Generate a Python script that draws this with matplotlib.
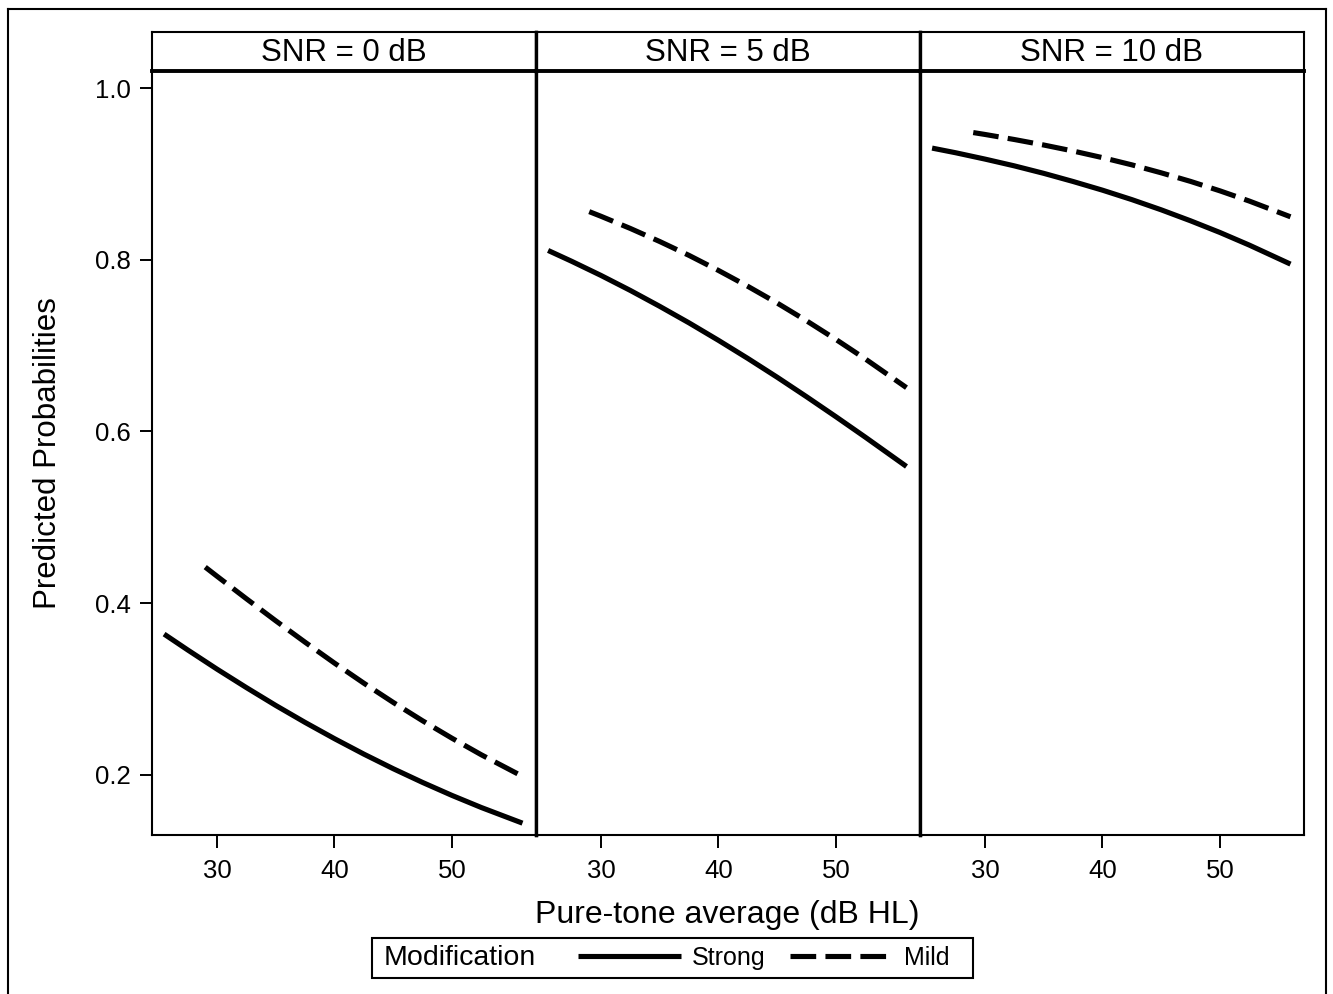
import matplotlib
matplotlib.use("Agg")
import matplotlib.pyplot as plt
from matplotlib.lines import Line2D
from matplotlib.patches import Rectangle

plt.rcParams['font.family'] = ['Liberation Sans', 'DejaVu Sans']

# values
panel_titles = ["SNR = 0 dB", "SNR = 5 dB", "SNR = 10 dB"]
pta_strong = [25.5, 27.5, 30, 32.5, 35, 37.5, 40, 42.5, 45, 47.5, 50, 52.5, 56]
pta_mild = [29, 30, 32.5, 35, 37.5, 40, 42.5, 45, 47.5, 50, 52.5, 56]
strong_snr0 = [0.3640, 0.3456, 0.3232, 0.3017, 0.2809, 0.2611, 0.2422,
               0.2242, 0.2072, 0.1912, 0.1761, 0.1620, 0.1438]
mild_snr0 = [0.4420, 0.4314, 0.4052, 0.3795, 0.3545, 0.3302,
             0.3068, 0.2844, 0.2630, 0.2427, 0.2234, 0.1983]
strong_snr5 = [0.8108, 0.7982, 0.7817, 0.7642, 0.7457, 0.7264, 0.7061,
               0.6850, 0.6631, 0.6404, 0.6171, 0.5933, 0.5592]
mild_snr5 = [0.8560, 0.8506, 0.8364, 0.8212, 0.8050, 0.7875,
             0.7690, 0.7495, 0.7288, 0.7071, 0.6844, 0.6510]
strong_snr10 = [0.9300, 0.9246, 0.9172, 0.9093, 0.9006, 0.8911, 0.8810,
                0.8700, 0.8581, 0.8453, 0.8317, 0.8170, 0.7949]
mild_snr10 = [0.9481, 0.9459, 0.9400, 0.9336, 0.9266, 0.9189,
              0.9105, 0.9012, 0.8912, 0.8802, 0.8683, 0.8500]
x_ticks = [30, 40, 50]
y_ticks = [0.2, 0.4, 0.6, 0.8, 1.0]

strong_all = [strong_snr0, strong_snr5, strong_snr10]
mild_all = [mild_snr0, mild_snr5, mild_snr10]

W, H = 1333, 994
fig = plt.figure(figsize=(W / 100, H / 100), dpi=100)

left_px, panel_w = 152, 384
top_px, bottom_px, strip_px = 71, 835, 39
thin, thick = 1.5, 2.4
lw_curve = 3.7
mild_style = (0, (5, 1.8))

for i in range(3):
    x0 = (left_px + i * panel_w) / W
    ax = fig.add_axes([x0, 1 - bottom_px / H, panel_w / W, (bottom_px - top_px) / H])
    ax.plot(pta_strong, strong_all[i], color="black", lw=lw_curve, solid_capstyle="butt")
    ax.plot(pta_mild, mild_all[i], color="black", lw=lw_curve, linestyle=mild_style,
            dash_capstyle="butt")
    ax.set_xlim(24.47, 57.15)
    ax.set_ylim(0.130, 1.0198)
    ax.set_xticks(x_ticks)
    ax.set_xticklabels([str(t) for t in x_ticks])
    ax.tick_params(axis="x", length=9, width=1.4, labelsize=18.5, pad=8)
    if i == 0:
        ax.set_yticks(y_ticks)
        ax.set_yticklabels(["%.1f" % t for t in y_ticks])
        ax.tick_params(axis="y", length=9, width=1.4, labelsize=18.5, pad=6)
    else:
        ax.set_yticks([])
    for name, sp in ax.spines.items():
        sp.set_linewidth(thin)
    if i > 0:
        ax.spines["left"].set_linewidth(thick)
    if i < 2:
        ax.spines["right"].set_linewidth(thick)

    strip = fig.add_axes([x0, 1 - top_px / H, panel_w / W, strip_px / H])
    strip.set_xticks([])
    strip.set_yticks([])
    for name, sp in strip.spines.items():
        sp.set_linewidth(thin)
    strip.spines["bottom"].set_linewidth(2.8)
    if i > 0:
        strip.spines["left"].set_linewidth(thick)
    if i < 2:
        strip.spines["right"].set_linewidth(thick)
    strip.text(0.5, 0.47, panel_titles[i], ha="center", va="center", fontsize=22.5,
               transform=strip.transAxes)

fig.text(48 / W, 1 - 453 / H, "Predicted Probabilities", rotation=90,
         ha="center", va="center", fontsize=22.5)
fig.text(727.5 / W, 1 - 915 / H, "Pure-tone average (dB HL)",
         ha="center", va="center", fontsize=23)

# legend box
fig.patches.append(Rectangle((372 / W, 1 - 978 / H), 601 / W, 40 / H, fill=False,
                             edgecolor="black", lw=thin, transform=fig.transFigure))
fig.text(384 / W, 1 - 958 / H, "Modification", ha="left", va="center", fontsize=20.5)
handles = [Line2D([], [], color="black", lw=lw_curve, solid_capstyle="butt"),
           Line2D([], [], color="black", lw=lw_curve, linestyle=mild_style, dash_capstyle="butt")]
fig.legend(handles, ["Strong", "Mild"], loc="center left",
           bbox_to_anchor=(578 / W, 1 - 958 / H), ncol=2, frameon=False,
           fontsize=18, handlelength=4.1, handletextpad=0.45, columnspacing=1.0,
           borderpad=0, borderaxespad=0)

# outer frame (no bottom edge)
fig.lines.append(Line2D([8 / W, 8 / W], [0, 1 - 9 / H], color="black", lw=thin,
                        transform=fig.transFigure))
fig.lines.append(Line2D([8 / W, 1326 / W], [1 - 9 / H, 1 - 9 / H], color="black", lw=thin,
                        transform=fig.transFigure))
fig.lines.append(Line2D([1326 / W, 1326 / W], [0, 1 - 9 / H], color="black", lw=thin,
                        transform=fig.transFigure))

fig.savefig("out.png", dpi=100)
